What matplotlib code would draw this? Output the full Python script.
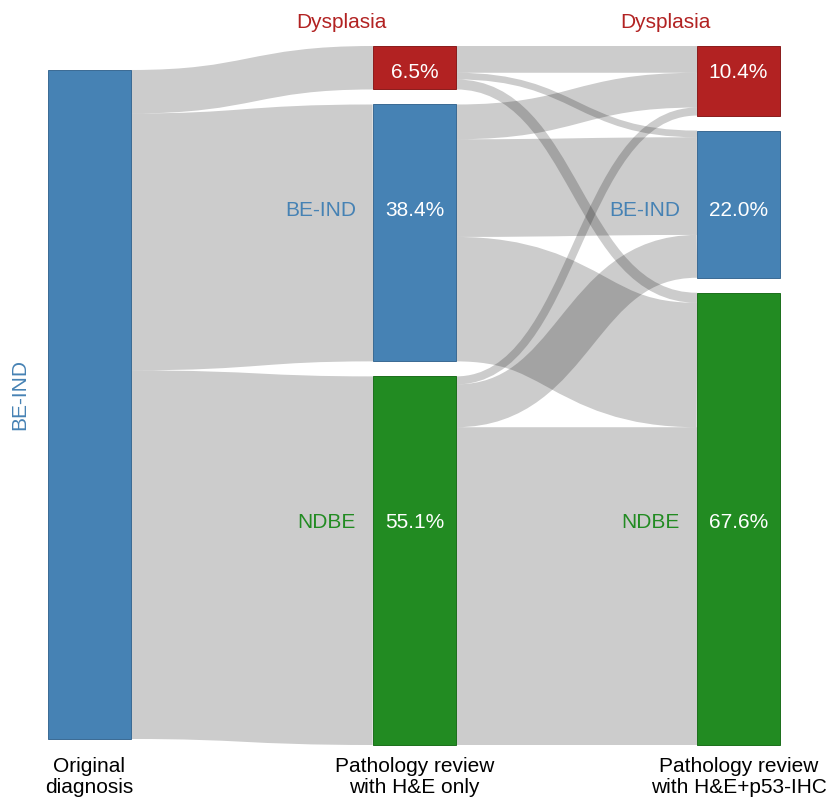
import matplotlib
matplotlib.use("Agg")
import matplotlib.pyplot as plt
from matplotlib.path import Path
from matplotlib.patches import PathPatch, Rectangle
import numpy as np

plt.rcParams['font.family'] = ['Liberation Sans', 'DejaVu Sans']

# ---------------- data ----------------
categories = ["Dysplasia", "BE-IND", "NDBE"]
colors = ["#B22222", "#4682B4", "#228B22"]
edge_colors = ["#8a1c1c", "#3a6a93", "#1c6f1c"]
stage_labels = ["Original\ndiagnosis", "Pathology review\nwith H&E only",
                "Pathology review\nwith H&E+p53-IHC"]
original_label = "BE-IND"
original_total = [100.0]
# Original diagnosis (all BE-IND) -> H&E review
orig_to_he = [6.5, 38.4, 55.1]
# H&E review (rows) -> H&E+p53 review (columns)
he_to_ihc = [[4.0, 1.0, 1.5],
             [5.2, 14.6, 18.6],
             [1.2, 6.4, 47.5]]
he_pct = [6.5, 38.4, 55.1]
ihc_pct = [10.4, 22.0, 67.6]

# ---------------- layout ----------------
W, H, DPI = 828, 799, 100
node_x = [48, 373, 697]
node_w = 83
scale = 6.69      # px per percent
gap = 15
top = 46
col1_top = 70
label_y = [72, 211, 522]

fig = plt.figure(figsize=(W / DPI, H / DPI), dpi=DPI)
ax = fig.add_axes([0, 0, 1, 1])
ax.set_xlim(0, W)
ax.set_ylim(H, 0)
ax.axis('off')

he_arr = np.array(he_pct)
ihc_arr = np.array(ihc_pct)
he_tops = top + np.concatenate([[0], np.cumsum(he_arr[:-1] * scale + gap)])
ihc_tops = top + np.concatenate([[0], np.cumsum(ihc_arr[:-1] * scale + gap)])


def link(x0, y0, x1, y1, dy):
    xm = x0 + (x1 - x0) * 0.5
    verts = [(x0, y0), (xm, y0), (xm, y1), (x1, y1)]
    codes = [Path.MOVETO, Path.CURVE4, Path.CURVE4, Path.CURVE4]
    p = PathPatch(Path(verts, codes), fill=False, edgecolor=(0, 0, 0, 0.2),
                  linewidth=dy * 72 / DPI, capstyle='butt', zorder=1)
    ax.add_patch(p)


# links: original -> H&E
sy = col1_top
for j, v in enumerate(orig_to_he):
    dy = v * scale
    link(node_x[0] + node_w, sy + dy / 2, node_x[1], he_tops[j] + dy / 2, dy)
    sy += dy

# links: H&E -> IHC
flows = np.array(he_to_ihc)
for i in range(3):
    for j in range(3):
        dy = flows[i, j] * scale
        y0 = he_tops[i] + sum(flows[i, :j]) * scale + dy / 2
        y1 = ihc_tops[j] + sum(flows[:i, j]) * scale + dy / 2
        link(node_x[1] + node_w, y0, node_x[2], y1, dy)

# nodes
ax.add_patch(Rectangle((node_x[0], col1_top), node_w, original_total[0] * scale,
                       facecolor=colors[1], edgecolor=edge_colors[1], lw=0.7, zorder=3))
for k in range(3):
    ax.add_patch(Rectangle((node_x[1], he_tops[k]), node_w, he_pct[k] * scale,
                           facecolor=colors[k], edgecolor=edge_colors[k], lw=0.7, zorder=3))
    ax.add_patch(Rectangle((node_x[2], ihc_tops[k]), node_w, ihc_pct[k] * scale,
                           facecolor=colors[k], edgecolor=edge_colors[k], lw=0.7, zorder=3))

fs = 15
# percentages
for k in range(3):
    ax.text(node_x[1] + node_w / 2, label_y[k], f"{he_pct[k]:.1f}%", color='white',
            ha='center', va='center', fontsize=fs, zorder=5)
    ax.text(node_x[2] + node_w / 2, label_y[k], f"{ihc_pct[k]:.1f}%", color='white',
            ha='center', va='center', fontsize=fs, zorder=5)

# category labels
for c in (1, 2):
    ax.text(node_x[c] - 32, 22, categories[0], color=colors[0], ha='center',
            va='center', fontsize=fs, zorder=5)
    for k in (1, 2):
        ax.text(node_x[c] - 17, label_y[k], categories[k], color=colors[k],
                ha='right', va='center', fontsize=fs, zorder=5)

ax.text(20, 395, original_label, color=colors[1], rotation=90, ha='center',
        va='center', fontsize=fs, zorder=5)

# stage labels
for c in range(3):
    ax.text(node_x[c] + node_w / 2, 777, stage_labels[c], ha='center', va='center',
            fontsize=fs, color='black', linespacing=1.1, zorder=5)

fig.savefig("out.png", dpi=DPI)
